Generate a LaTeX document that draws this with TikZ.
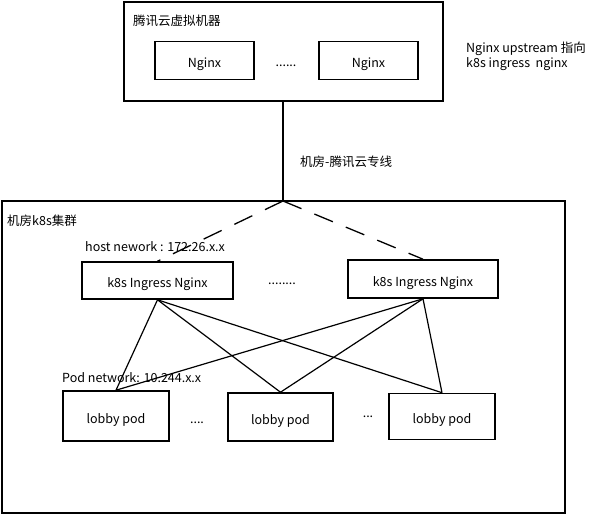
\documentclass[tikz,border=0pt]{standalone}
\usepackage{fontspec}
\setmainfont{Noto Sans CJK SC}
\usetikzlibrary{positioning}

\begin{document}
\begin{tikzpicture}[x=1pt,y=-1pt,font=\fontsize{12.5}{15}\selectfont,
  box/.style={draw,line width=1.6pt,inner sep=0pt,text height=14.5pt,text depth=0pt},
  lbl/.style={inner sep=0pt,anchor=west}]
\useasboundingbox (0,0) rectangle (592,515);
% outer frames
\node[box,minimum width=319pt,minimum height=99pt] (vm) at (283.5,51.5) {};
\node[box,minimum width=563pt,minimum height=312pt] (idc) at (283.5,357) {};
\node[lbl] (vmtxt)  at (133,21)  {腾讯云虚拟机器};
\node[lbl] (idctxt) at (7,221)   {机房k8s集群};
% nginx on the vm
\node[box,minimum width=99pt,minimum height=38pt] (ng1) at (204.5,60.5) {Nginx};
\node[box,minimum width=99pt,minimum height=38pt] (ng2) at (368.5,60.5) {Nginx};
\node (ngdots) at (286,66) {......};
\node[lbl,align=left] (upstr) at (466,56) {Nginx upstream 指向\\k8s ingress\ \ nginx};
% ingress
\node[lbl] (hostnet) at (85,247) {host nework : 172.26.x.x};
\node[box,minimum width=151pt,minimum height=37pt] (ing1) at (157.5,280.5) {k8s Ingress Nginx};
\node[box,minimum width=150pt,minimum height=38pt] (ing2) at (423,279) {k8s Ingress Nginx};
\node (ingdots) at (282,284) {........};
% pods
\node[lbl] (podnet) at (62,378) {Pod network: 10.244.x.x};
\node[box,minimum width=106pt,minimum height=50pt] (pod1) at (116,416) {lobby pod};
\node[box,minimum width=105pt,minimum height=48pt] (pod2) at (280.5,417) {lobby pod};
\node[box,minimum width=106pt,minimum height=46pt] (pod3) at (442,416.5) {lobby pod};
\node (pdots1) at (197,423) {....};
\node (pdots2) at (368,417) {...};
% private line
\coordinate (top) at (283,201);
\draw[line width=1.3pt] (vm.south -| top) -- (top);
\node[lbl] (line) at (300,162) {机房-腾讯云专线};
\path[line width=1.3pt,dash pattern=on 20pt off 14pt]
(top) edge (ing1.north)
(top) edge (ing2.north)
;
\path[line width=1.2pt]
(ing1.south) edge (pod1.north)
(ing1.south) edge (pod2.north)
(ing1.south) edge (pod3.north)
(ing2.south) edge (pod1.north)
(ing2.south) edge (pod2.north)
(ing2.south) edge (pod3.north)
;
\end{tikzpicture}
\end{document}
